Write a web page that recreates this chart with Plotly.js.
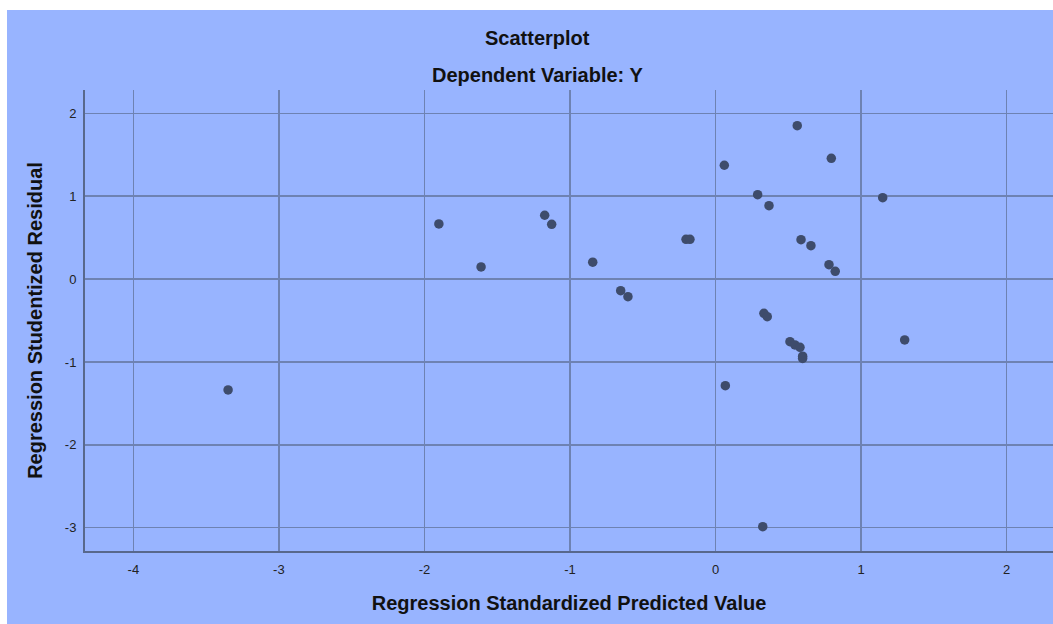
<!DOCTYPE html>
<html>
<head>
<meta charset="utf-8">
<script src="https://cdn.plot.ly/plotly-3.0.1.min.js"></script>
<style>
  html, body { margin: 0; padding: 0; background: #ffffff; width: 1053px; height: 624px; overflow: hidden; }
  #chart { position: absolute; left: 7px; top: 10px; width: 1046px; height: 614px; }
</style>
</head>
<body>
<div id="chart"></div>
<script>
// Regression Standardized Predicted Value
const predicted = [-3.349, -1.901, -1.611, -1.174, -1.126, -0.844, -0.652, -0.602, -0.203, -0.176,
                   0.060, 0.067, 0.289, 0.367, 0.332, 0.355, 0.324, 0.561, 0.587, 0.655,
                   0.511, 0.545, 0.580, 0.598, 0.598, 0.779, 0.822, 0.795, 1.148, 1.299];
// Regression Studentized Residual
const residual  = [-1.338, 0.665, 0.146, 0.770, 0.661, 0.203, -0.140, -0.212, 0.480, 0.480,
                   1.373, -1.286, 1.018, 0.885, -0.413, -0.454, -2.987, 1.850, 0.475, 0.403,
                   -0.755, -0.795, -0.823, -0.930, -0.958, 0.174, 0.094, 1.457, 0.982, -0.735];
const xTicks = [-4, -3, -2, -1, 0, 1, 2];
const yTicks = [-3, -2, -1, 0, 1, 2];
const chartTitle = "Scatterplot";
const chartSubtitle = "Dependent Variable: Y";
const xTitle = "Regression Standardized Predicted Value";
const yTitle = "Regression Studentized Residual";

const bg = "#98B4FF";
const gridC = "#6E82B2";
const axisC = "#58688C";
const font = "Liberation Sans, Arial, sans-serif";

const trace = {
  x: predicted, y: residual, type: "scatter", mode: "markers",
  marker: { size: 9.5, color: "#3E4C6C", line: { width: 0 } },
  hoverinfo: "x+y"
};

const layout = {
  width: 1046, height: 614,
  paper_bgcolor: bg, plot_bgcolor: bg,
  margin: { l: 78, r: 0, t: 80, b: 73 },
  showlegend: false,
  font: { family: font, color: "#1a1a1a" },
  xaxis: {
    range: [-4.332, 2.318], tickvals: xTicks, ticktext: xTicks.map(String),
    showgrid: true, gridcolor: gridC, gridwidth: 1.5, zeroline: false,
    showline: true, linecolor: axisC, linewidth: 2,
    ticks: "outside", ticklen: 5, tickcolor: "rgba(0,0,0,0)",
    tickfont: { size: 13, family: font, color: "#222" },
    title: { text: xTitle, font: { size: 20, family: font, color: "#111", weight: "bold" }, standoff: 20 },
    fixedrange: true
  },
  yaxis: {
    range: [-3.281, 2.281], tickvals: yTicks, ticktext: yTicks.map(String),
    showgrid: true, gridcolor: gridC, gridwidth: 1.5, zeroline: false,
    showline: true, linecolor: axisC, linewidth: 2,
    ticks: "outside", ticklen: 4, tickcolor: "rgba(0,0,0,0)",
    tickfont: { size: 13, family: font, color: "#222" },
    title: { text: yTitle, font: { size: 20, family: font, color: "#111", weight: "bold" }, standoff: 17 },
    fixedrange: true
  },
  annotations: [
    { text: "<b>" + chartTitle + "</b>", xref: "paper", yref: "paper", x: 0.467, y: 1.113,
      xanchor: "center", yanchor: "middle", showarrow: false, font: { size: 20, family: font, color: "#111" } },
    { text: "<b>" + chartSubtitle + "</b>", xref: "paper", yref: "paper", x: 0.467, y: 1.033,
      xanchor: "center", yanchor: "middle", showarrow: false, font: { size: 20, family: font, color: "#111" } }
  ]
};

Plotly.newPlot("chart", [trace], layout, { displayModeBar: false, staticPlot: true });
</script>
</body>
</html>
